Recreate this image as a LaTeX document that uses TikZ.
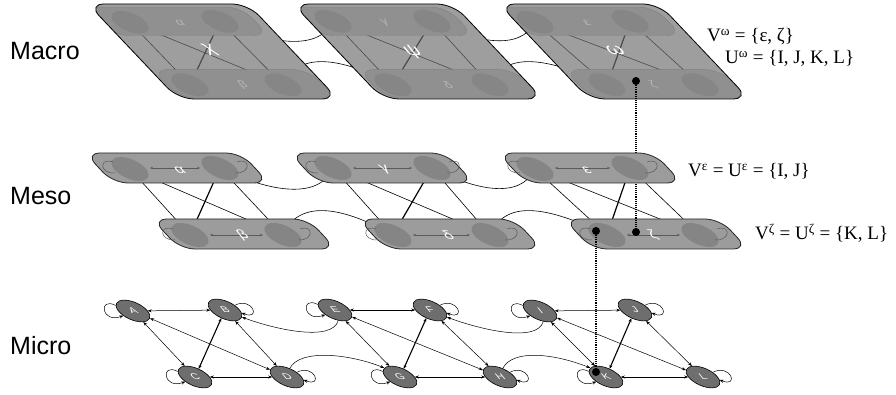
\documentclass[tikz,border=0pt]{standalone}
\usepackage{fontspec}
\setmainfont{Liberation Serif}
\newfontfamily\lsans{Liberation Sans}
\usetikzlibrary{arrows.meta}
\definecolor{micfill}{HTML}{6E6E6E}
\definecolor{pillfill}{HTML}{9C9C9C}
\definecolor{pilldraw}{HTML}{262626}
\definecolor{minifill}{HTML}{858585}
\definecolor{parafill}{HTML}{9E9E9E}
\definecolor{stripfill}{HTML}{909090}
\definecolor{stripedge}{HTML}{808080}
\definecolor{stripmini}{HTML}{868686}
\definecolor{innerline}{HTML}{4A4A4A}
\definecolor{faintlab}{HTML}{B6B6B6}
\definecolor{minline}{HTML}{5A5A5A}

\newcommand\MiniNode[3]{\fill[#3,shift={(#1,#2)},xslant=-0.8,yscale=0.75] (0,0) circle[radius=16];}
\newcommand\Pill[3]{\path[#3] ({#1-92},{#2-15}) -- ({#1+64},{#2-15}) -- ({#1+92},{#2+15}) -- ({#1-64},{#2+15}) -- cycle;}
\newcommand\Para[2]{\path[#2] (#1,4) -- ({#1+160},4) -- ({#1+250},99) -- ({#1+90},99) -- cycle;}
\newcommand\DefMini[1]{%
  \coordinate (#1A) at (130,169); \coordinate (#1B) at (220,168);
  \coordinate (#1C) at (190,235); \coordinate (#1D) at (283,235);
  \coordinate (#1E) at (333,168); \coordinate (#1F) at (432,168);
  \coordinate (#1G) at (393,235); \coordinate (#1H) at (490,235);
  \coordinate (#1I) at (535,169); \coordinate (#1J) at (630,168);
  \coordinate (#1K) at (607,235); \coordinate (#1L) at (700,235);}
\newcommand\MesoStraight[2]{%
  \foreach \pp/\qq in {A/C,A/D,B/D,E/G,E/H,F/H,I/K,I/L,J/L}{\draw[#2] (#1\pp) -- (#1\qq);}%
  \foreach \pp/\qq in {B/C,F/G,J/K}{\draw[#2,line width=1.2pt] (#1\pp) -- (#1\qq);}}
\newcommand\MesoCurves[2]{%
  \draw[#2] (#1B) .. controls (265,190) and (318,202) .. (#1E);
  \draw[#2] (#1D) .. controls (298,200) and (340,205) .. (#1G);
  \draw[#2] (#1F) .. controls (475,190) and (520,200) .. (#1I);
  \draw[#2] (#1H) .. controls (505,200) and (545,205) .. (#1K);}
\newcommand\MesoPillsBottom[1]{\Pill{244}{234}{#1}\Pill{450}{234}{#1}\Pill{656}{234}{#1}}
\newcommand\MesoPillsTop[1]{\Pill{177}{168}{#1}\Pill{382}{168}{#1}\Pill{590}{168}{#1}}
\newcommand\MesoMinis[1]{%
  \MiniNode{130}{169}{#1}\MiniNode{220}{168}{#1}\MiniNode{190}{235}{#1}\MiniNode{283}{235}{#1}%
  \MiniNode{333}{168}{#1}\MiniNode{432}{168}{#1}\MiniNode{393}{235}{#1}\MiniNode{490}{235}{#1}%
  \MiniNode{535}{169}{#1}\MiniNode{630}{168}{#1}\MiniNode{607}{235}{#1}\MiniNode{700}{235}{#1}}
\newcommand\MiniPair[4]{%
  \draw[#4,line width=0.5pt,smalltip-smalltip] ({#1+20},#3) -- ({#2-20},#3);
  \draw[#4,line width=0.5pt] ({#1-17},{#3-6}) .. controls ({#1-31},{#3-11}) and ({#1-31},{#3+6}) .. ({#1-15},{#3+5});
  \draw[#4,line width=0.5pt] ({#2+17},{#3-6}) .. controls ({#2+31},{#3-11}) and ({#2+31},{#3+6}) .. ({#2+15},{#3+5});}
\newcommand\MesoArrows[1]{%
  \MiniPair{130}{220}{168}{#1}\MiniPair{190}{283}{235}{#1}\MiniPair{333}{432}{168}{#1}%
  \MiniPair{393}{490}{235}{#1}\MiniPair{535}{630}{168}{#1}\MiniPair{607}{700}{235}{#1}}
\newcommand\MesoLabels[3]{%
  \node[glab,text=#2,font=\lsans\fontsize{#3}{#3}\selectfont] (#1lal) at (180,170) {α};
  \node[glab,text=#2,font=\lsans\fontsize{#3}{#3}\selectfont] (#1lbe) at (243,235) {β};
  \node[glab,text=#2,font=\lsans\fontsize{#3}{#3}\selectfont] (#1lga) at (385,170) {γ};
  \node[glab,text=#2,font=\lsans\fontsize{#3}{#3}\selectfont] (#1lde) at (448,235) {δ};
  \node[glab,text=#2,font=\lsans\fontsize{#3}{#3}\selectfont] (#1lep) at (587,170) {ε};
  \node[glab,text=#2,font=\lsans\fontsize{#3}{#3}\selectfont] (#1lze) at (653,235) {ζ};}

\begin{document}
\begin{tikzpicture}[x=1pt,y=-1pt,
  mytip/.tip={Stealth[length=4pt,width=3pt]},
  smalltip/.tip={Stealth[length=3pt,width=2.5pt]},
  mnode/.style={circle,draw=black,line width=0.6pt,fill=micfill,minimum size=29pt,inner sep=0pt,
    xslant=-0.8,yscale=0.75,text=white,font=\lsans\fontsize{11}{11}\selectfont},
  biarr/.style={line width=0.5pt,mytip-mytip},
  onearr/.style={line width=0.5pt,-mytip},
  glab/.style={inner sep=0pt,xslant=-0.8,yscale=0.75},
  layerlab/.style={anchor=base west,inner sep=0pt,font=\lsans\fontsize{25}{25}\selectfont},
  setlab/.style={anchor=base west,inner sep=0pt,font=\fontsize{19}{19}\selectfont},
  bigdot/.style={circle,fill=black,minimum size=8pt,inner sep=0pt},
  dotline/.style={densely dotted,line width=1.1pt}]
\useasboundingbox (0,0) rectangle (896,395);

% ---------------- layer names
\node[layerlab] (macro) at (10,60) {Macro};
\node[layerlab] (meso) at (10,205) {Meso};
\node[layerlab] (micro) at (10,354) {Micro};

% ---------------- macro layer
\begin{scope}[shift={(0,-138)},yscale=0.948]
  \DefMini{x}
  \MesoCurves{x}{line width=0.6pt,black}
\end{scope}
\Para{88}{fill=parafill,rounded corners=16pt}
\Para{293}{fill=parafill,rounded corners=16pt}
\Para{499}{fill=parafill,rounded corners=16pt}
\begin{scope}
  \clip[rounded corners=16pt] (88,4) -- (248,4) -- (338,99) -- (178,99) -- cycle
        (293,4) -- (453,4) -- (543,99) -- (383,99) -- cycle
        (499,4) -- (659,4) -- (749,99) -- (589,99) -- cycle;
  \begin{scope}[shift={(0,-138)},yscale=0.948]
    \MesoStraight{x}{line width=0.6pt,innerline}
    \MesoPillsBottom{fill=stripfill,draw=stripedge,line width=0.4pt,rounded corners=15pt}
    \MesoPillsTop{fill=stripfill,draw=stripedge,line width=0.4pt,rounded corners=15pt}
    \MesoMinis{stripmini}
    \MesoLabels{x}{faintlab}{13}
  \end{scope}
  \node[glab,text=white,font=\lsans\fontsize{21}{21}\selectfont] (chi) at (210,50) {χ};
  \node[glab,text=white,font=\lsans\fontsize{21}{21}\selectfont] (psi) at (413,52) {ψ};
  \node[glab,text=white,font=\lsans\fontsize{21}{21}\selectfont] (omega) at (615,50) {ω};
\end{scope}
\Para{88}{draw=black,line width=0.8pt,rounded corners=16pt}
\Para{293}{draw=black,line width=0.8pt,rounded corners=16pt}
\Para{499}{draw=black,line width=0.8pt,rounded corners=16pt}

% ---------------- meso layer
\DefMini{m}
\MesoStraight{m}{line width=0.6pt,black}
\MesoCurves{m}{line width=0.6pt,black}
\MesoPillsBottom{fill=pillfill,draw=pilldraw,line width=0.8pt,rounded corners=15pt}
\coordinate (pOm) at (636,81);
\coordinate (pZe) at (636,232);
\coordinate (pKm) at (596,231);
\coordinate (pKs) at (596,372);
\draw[dotline] (pOm) -- (pZe);
\MesoPillsTop{fill=pillfill,draw=pilldraw,line width=0.8pt,rounded corners=15pt}
\MesoMinis{minifill}
\MesoArrows{minline}
\MesoLabels{m}{white}{16}

% ---------------- micro layer
\node[mnode] (A) at (133,311) {A};
\node[mnode] (B) at (225,310) {B};
\node[mnode] (C) at (195,377) {C};
\node[mnode] (D) at (287,377) {D};
\node[mnode] (E) at (335,310) {E};
\node[mnode] (F) at (430,310) {F};
\node[mnode] (G) at (400,377) {G};
\node[mnode] (H) at (500,377) {H};
\node[mnode] (I) at (540,311) {I};
\node[mnode] (J) at (635,310) {J};
\node[mnode] (K) at (606,377) {K};
\node[mnode] (L) at (703,377) {L};

\foreach \a/\b/\c/\d in {A/B/C/D,E/F/G/H,I/J/K/L}{
  \draw[biarr] (\a) -- (\b);
  \draw[biarr] (\a) -- (\c);
  \draw[biarr] (\a) -- (\d);
  \draw[biarr] (\b) -- (\d);
  \draw[biarr] (\c) -- (\d);
  \draw[biarr,line width=1.1pt] (\b) -- (\c);
}
\foreach \n in {A,C,E,G,I,K}{
  \draw[onearr] (\n.150) .. controls +(-18,-9) and +(-22,8) .. (\n.205);
}
\foreach \n in {B,D,F,H,J,L}{
  \draw[onearr] (\n.25) .. controls +(18,-9) and +(20,8) .. (\n.345);
}
\draw[onearr] (E.250) .. controls +(-6,22) and +(32,12) .. (B.320);
\draw[onearr] (I.250) .. controls +(-6,22) and +(32,12) .. (F.320);
\draw[onearr] (D.50) .. controls +(10,-20) and +(-35,-14) .. (G.125);
\draw[onearr] (H.50) .. controls +(10,-20) and +(-35,-14) .. (K.125);

% ---------------- links between layers
\draw[dotline] (pKm) -- (pKs);
\node[bigdot] (dOm) at (pOm) {};
\node[bigdot] (dZe) at (pZe) {};
\node[bigdot] (dKm) at (pKm) {};
\node[bigdot] (dKs) at (pKs) {};

% ---------------- set labels
\node[setlab] (vo) at (707,42) {V\textsuperscript{ω} = \{ε, ζ\}};
\node[setlab] (uo) at (725,64) {U\textsuperscript{ω} = \{I, J, K, L\}};
\node[setlab] (ve) at (688,177) {V\textsuperscript{ε} = U\textsuperscript{ε} = \{I, J\}};
\node[setlab] (vz) at (755,240) {V\textsuperscript{ζ} = U\textsuperscript{ζ} = \{K, L\}};
\end{tikzpicture}
\end{document}
